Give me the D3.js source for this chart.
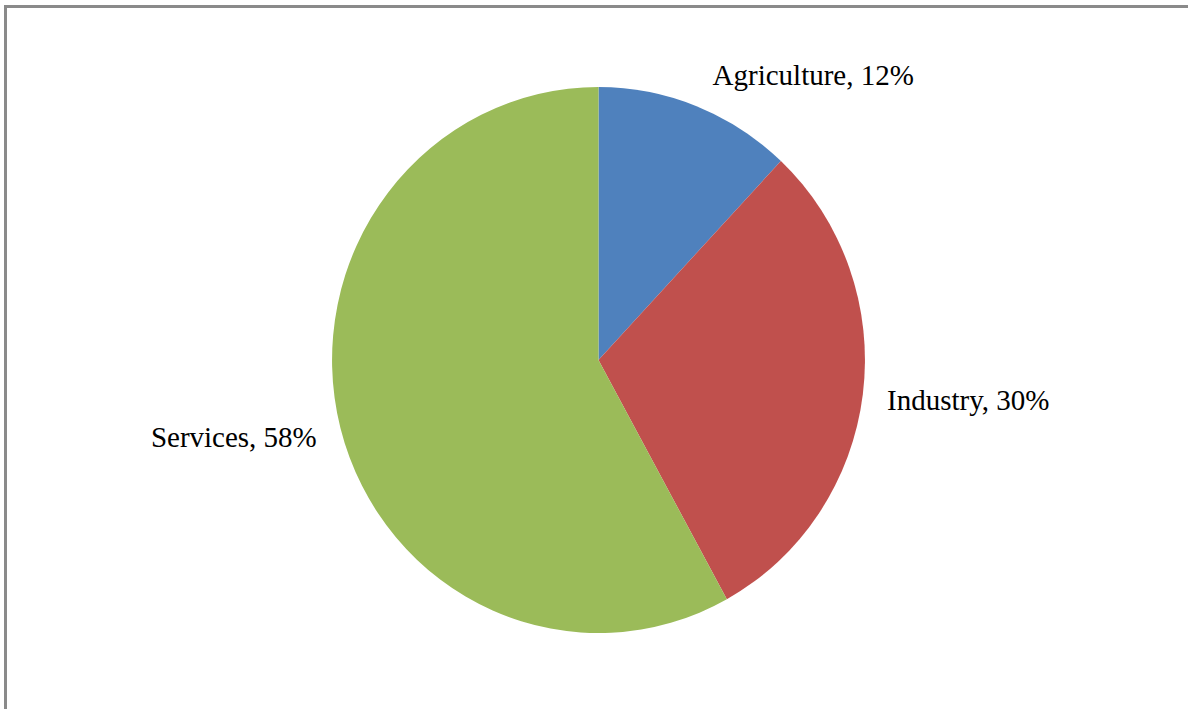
<!DOCTYPE html>
<html>
<head>
<meta charset="utf-8">
<script src="https://cdn.jsdelivr.net/npm/d3@7"></script>
<style>
  html, body { margin: 0; padding: 0; background: #fff; overflow: hidden; }
  svg { display: block; }
</style>
</head>
<body>
<svg id="chart" width="1188" height="709"></svg>
<script>
// Sector shares of the economy (percent)
const categories = ["Agriculture", "Industry", "Services"];
const shares = [12, 30, 58];
const colors = ["#4F81BD", "#C0504D", "#9BBB59"];

const svg = d3.select("#chart");
const W = 1188, H = 709;

// Chart frame
svg.append("rect")
  .attr("x", 5.5).attr("y", 6.5)
  .attr("width", W + 50).attr("height", H + 50)
  .attr("fill", "#fff")
  .attr("stroke", "#8a8a8a")
  .attr("stroke-width", 3);

const cx = 598.5, cy = 360;
const r = 273;
const sx = 0.976; // horizontal squash of the plot area

const data = categories.map((c, i) => ({ name: c, value: shares[i], color: colors[i] }));

const pie = d3.pie().value(d => d.value).sort(null);
const arcs = pie(data);
const arc = d3.arc().innerRadius(0).outerRadius(r);

const g = svg.append("g")
  .attr("transform", `translate(${cx},${cy}) scale(${sx},1)`);

g.selectAll("path")
  .data(arcs)
  .join("path")
  .attr("d", arc)
  .attr("fill", d => d.data.color);

// Outside-end data labels
const labelR = r + 25;
svg.selectAll("text.lbl")
  .data(arcs)
  .join("text")
  .attr("class", "lbl")
  .each(function(d) {
    const a = (d.startAngle + d.endAngle) / 2;
    const x = cx + labelR * Math.sin(a) * sx;
    const y = cy - labelR * Math.cos(a);
    const right = Math.sin(a) >= 0;
    const up = Math.cos(a) > 0.5;
    d3.select(this)
      .attr("x", x + (up ? 7 : 0))
      .attr("y", y + (up ? 2 : 0))
      .attr("dy", up ? "0em" : "0.45em")
      .attr("text-anchor", right ? "start" : "end");
  })
  .attr("font-family", "'Liberation Serif', 'Times New Roman', serif")
  .attr("font-size", 29)
  .attr("fill", "#000")
  .text(d => `${d.data.name}, ${d.data.value}%`);
</script>
</body>
</html>
